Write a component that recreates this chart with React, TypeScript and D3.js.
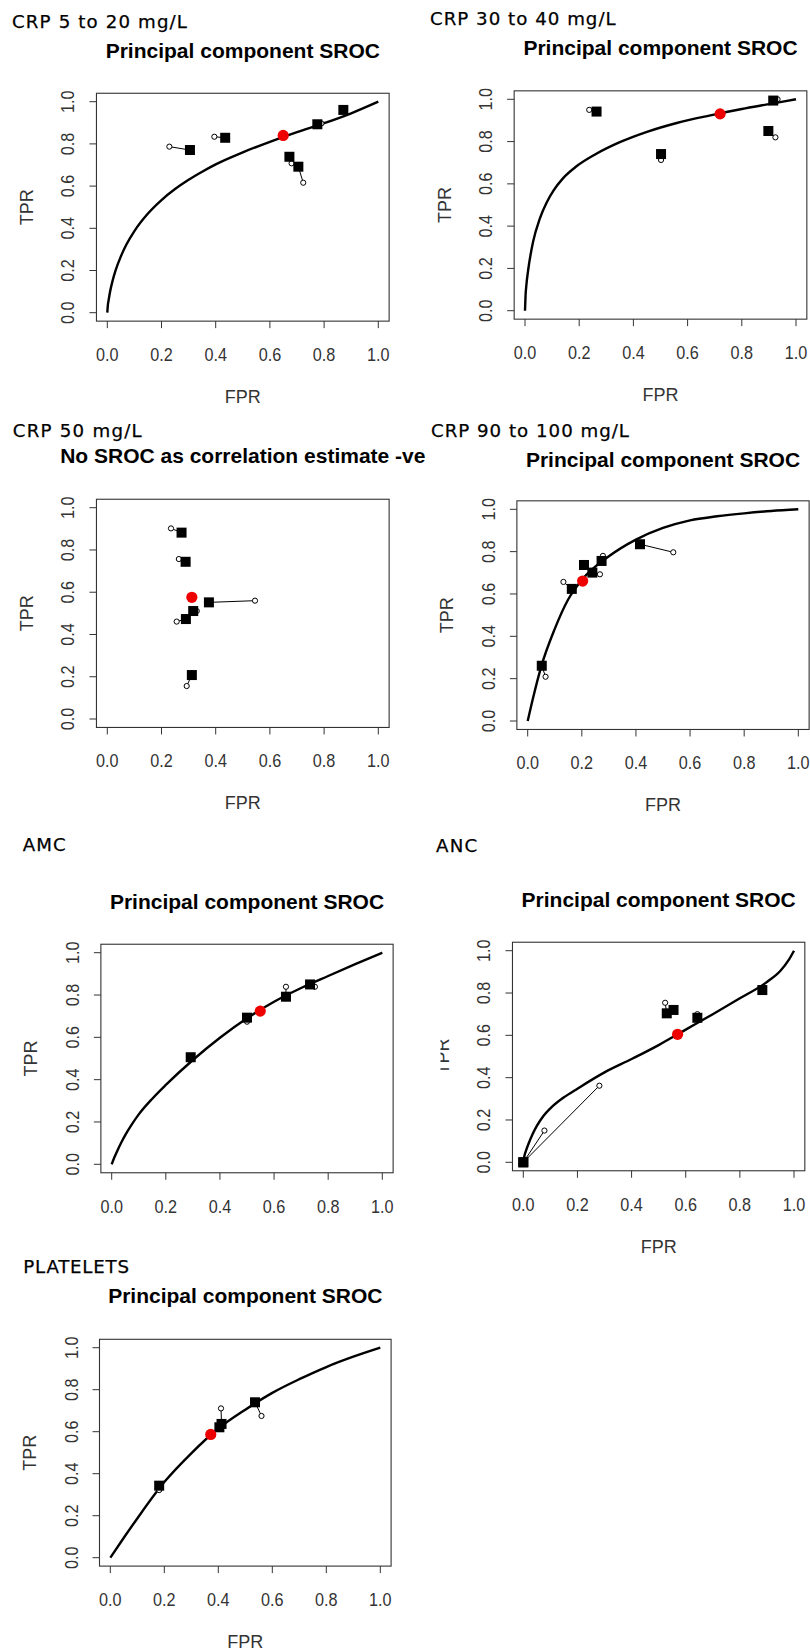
import React from 'react';
import * as d3 from 'd3';

// ---------- shared axis data ----------
const tickValues = [0, 0.2, 0.4, 0.6, 0.8, 1.0];
const tickLabels = ['0.0', '0.2', '0.4', '0.6', '0.8', '1.0'];
const xAxisTitle = 'FPR';
const yAxisTitle = 'TPR';
const sroctitle = 'Principal component SROC';

// ---------- panel 1: CRP 5 to 20 mg/L ----------
const p1Subtitle = 'CRP 5 to 20 mg/L';
const p1ObsFPR = [0.229, 0.395, 0.68, 0.723, 0.79, 0.877];
const p1ObsTPR = [0.787, 0.834, 0.708, 0.616, 0.897, 0.968];
const p1FitFPR = [0.305, 0.435, 0.672, 0.705, 0.775, 0.871];
const p1FitTPR = [0.771, 0.829, 0.739, 0.692, 0.893, 0.961];
const p1Summary = [0.649, 0.84];
const p1CurveFPR = [0, 0.002, 0.005, 0.01, 0.02, 0.03, 0.05, 0.07, 0.1, 0.15, 0.2, 0.25, 0.3, 0.35, 0.4, 0.5, 0.6, 0.7, 0.8, 0.9, 1.0];
const p1CurveTPR = [0, 0.035, 0.06, 0.098, 0.154, 0.198, 0.267, 0.322, 0.387, 0.47, 0.534, 0.586, 0.63, 0.668, 0.703, 0.76, 0.81, 0.856, 0.898, 0.945, 1.0];

// ---------- panel 2: CRP 30 to 40 mg/L ----------
const p2Subtitle = 'CRP 30 to 40 mg/L';
const p2ObsFPR = [0.237, 0.502, 0.924, 0.932];
const p2ObsTPR = [0.95, 0.713, 0.82, 1.0];
const p2FitFPR = [0.264, 0.502, 0.898, 0.916];
const p2FitTPR = [0.942, 0.741, 0.85, 0.994];
const p2Summary = [0.72, 0.931];
const p2CurveFPR = [0, 0.002, 0.005, 0.012, 0.03, 0.055, 0.08, 0.105, 0.14, 0.19, 0.26, 0.35, 0.45, 0.56, 0.68, 0.8, 0.9, 1.0];
const p2CurveTPR = [0, 0.07, 0.12, 0.195, 0.327, 0.437, 0.512, 0.568, 0.626, 0.683, 0.74, 0.797, 0.846, 0.888, 0.923, 0.954, 0.977, 1.0];

// ---------- panel 3: CRP 50 mg/L ----------
const p3Subtitle = 'CRP 50 mg/L';
const p3Title = 'No SROC as correlation estimate -ve';
const p3ObsFPR = [0.235, 0.264, 0.545, 0.33, 0.256, 0.293];
const p3ObsTPR = [0.902, 0.757, 0.56, 0.511, 0.461, 0.156];
const p3FitFPR = [0.274, 0.289, 0.375, 0.317, 0.29, 0.312];
const p3FitTPR = [0.882, 0.744, 0.552, 0.511, 0.473, 0.208];
const p3Summary = [0.312, 0.576];

// ---------- panel 4: CRP 90 to 100 mg/L ----------
const p4Subtitle = 'CRP 90 to 100 mg/L';
const p4ObsFPR = [0.066, 0.132, 0.21, 0.267, 0.278, 0.538];
const p4ObsTPR = [0.209, 0.657, 0.745, 0.693, 0.78, 0.797];
const p4FitFPR = [0.052, 0.163, 0.208, 0.239, 0.273, 0.415];
const p4FitTPR = [0.261, 0.624, 0.737, 0.701, 0.756, 0.835];
const p4Summary = [0.203, 0.661];
const p4CurveFPR = [0, 0.02, 0.05, 0.1, 0.15, 0.2, 0.3, 0.4, 0.5, 0.6, 0.7, 0.8, 0.9, 1.0];
const p4CurveTPR = [0, 0.11, 0.257, 0.435, 0.575, 0.666, 0.778, 0.857, 0.912, 0.948, 0.967, 0.981, 0.992, 1.0];

// ---------- panel 5: AMC ----------
const p5Subtitle = 'AMC';
const p5ObsFPR = [0.29, 0.5, 0.644, 0.751];
const p5ObsTPR = [0.5, 0.674, 0.839, 0.839];
const p5FitFPR = [0.292, 0.5, 0.644, 0.733];
const p5FitTPR = [0.506, 0.693, 0.792, 0.85];
const p5Summary = [0.549, 0.724];
const p5CurveFPR = [0, 0.01, 0.02, 0.035, 0.05, 0.075, 0.1, 0.15, 0.2, 0.3, 0.4, 0.5, 0.6, 0.7, 0.8, 0.9, 1.0];
const p5CurveTPR = [0, 0.033, 0.062, 0.102, 0.138, 0.19, 0.236, 0.31, 0.375, 0.493, 0.598, 0.69, 0.768, 0.833, 0.89, 0.946, 1.0];

// ---------- panel 6: ANC ----------
const p6Subtitle = 'ANC';
const p6ObsFPR = [0.078, 0.281, 0.524, 0.555, 0.643, 0.883];
const p6ObsTPR = [0.15, 0.362, 0.754, 0.725, 0.7, 0.814];
const p6FitFPR = [0, 0, 0.53, 0.555, 0.643, 0.883];
const p6FitTPR = [0, 0, 0.704, 0.72, 0.683, 0.814];
const p6Summary = [0.57, 0.605];
const p6CurveFPR = [0, 0.005, 0.01, 0.02, 0.035, 0.05, 0.075, 0.1, 0.15, 0.2, 0.3, 0.4, 0.5, 0.6, 0.7, 0.8, 0.9, 0.95, 0.98, 1.0];
const p6CurveTPR = [0, 0.035, 0.055, 0.09, 0.135, 0.172, 0.22, 0.255, 0.307, 0.348, 0.425, 0.488, 0.554, 0.627, 0.7, 0.775, 0.852, 0.905, 0.955, 1.0];

// ---------- panel 7: PLATELETS ----------
const p7Subtitle = 'PLATELETS';
const p7ObsFPR = [0.181, 0.41, 0.404, 0.56];
const p7ObsTPR = [0.322, 0.711, 0.63, 0.675];
const p7FitFPR = [0.181, 0.412, 0.404, 0.536];
const p7FitTPR = [0.343, 0.637, 0.621, 0.74];
const p7Summary = [0.372, 0.587];
const p7CurveFPR = [0, 0.05, 0.1, 0.2, 0.3, 0.4, 0.5, 0.6, 0.7, 0.8, 0.9, 1.0];
const p7CurveTPR = [0, 0.095, 0.187, 0.36, 0.497, 0.615, 0.705, 0.785, 0.85, 0.908, 0.957, 1.0];

// ---------- layout (pixel positions of value 0 and 1 on each axis) ----------
type Layout = {
  x0: number; x1: number; y0: number; y1: number;
  subX: number; subY: number; subLen: number; titleY: number;
  showX: boolean; cutTPR?: boolean;
};

const panels = [
  { sub: p1Subtitle, title: sroctitle, obsX: p1ObsFPR, obsY: p1ObsTPR, fitX: p1FitFPR, fitY: p1FitTPR, sum: p1Summary, cx: p1CurveFPR, cy: p1CurveTPR,
    lay: { x0: 107.3, x1: 378.3, y0: 312.7, y1: 101.7, subX: 12, subY: 28.3, subLen: 175, titleY: 58.3, showX: true } as Layout },
  { sub: p2Subtitle, title: sroctitle, obsX: p2ObsFPR, obsY: p2ObsTPR, fitX: p2FitFPR, fitY: p2FitTPR, sum: p2Summary, cx: p2CurveFPR, cy: p2CurveTPR,
    lay: { x0: 525, x1: 796, y0: 310.7, y1: 99.3, subX: 430, subY: 25, subLen: 185.7, titleY: 55, showX: true } as Layout },
  { sub: p3Subtitle, title: p3Title, obsX: p3ObsFPR, obsY: p3ObsTPR, fitX: p3FitFPR, fitY: p3FitTPR, sum: p3Summary, cx: null, cy: null,
    lay: { x0: 107.3, x1: 378.3, y0: 719, y1: 507.7, subX: 12.7, subY: 436.7, subLen: 129, titleY: 463.3, showX: true } as Layout },
  { sub: p4Subtitle, title: sroctitle, obsX: p4ObsFPR, obsY: p4ObsTPR, fitX: p4FitFPR, fitY: p4FitTPR, sum: p4Summary, cx: p4CurveFPR, cy: p4CurveTPR,
    lay: { x0: 527.7, x1: 798.3, y0: 721, y1: 509.3, subX: 431, subY: 436.7, subLen: 198, titleY: 466.7, showX: true } as Layout },
  { sub: p5Subtitle, title: sroctitle, obsX: p5ObsFPR, obsY: p5ObsTPR, fitX: p5FitFPR, fitY: p5FitTPR, sum: p5Summary, cx: p5CurveFPR, cy: p5CurveTPR,
    lay: { x0: 111.7, x1: 382.3, y0: 1164.3, y1: 952.7, subX: 22.7, subY: 850.7, subLen: 43, titleY: 909, showX: false } as Layout },
  { sub: p6Subtitle, title: sroctitle, obsX: p6ObsFPR, obsY: p6ObsTPR, fitX: p6FitFPR, fitY: p6FitTPR, sum: p6Summary, cx: p6CurveFPR, cy: p6CurveTPR,
    lay: { x0: 523.3, x1: 794, y0: 1162.3, y1: 950.7, subX: 436, subY: 852.3, subLen: 41.3, titleY: 906.7, showX: true, cutTPR: true } as Layout },
  { sub: p7Subtitle, title: sroctitle, obsX: p7ObsFPR, obsY: p7ObsTPR, fitX: p7FitFPR, fitY: p7FitTPR, sum: p7Summary, cx: p7CurveFPR, cy: p7CurveTPR,
    lay: { x0: 110.3, x1: 380.3, y0: 1557.7, y1: 1347.7, subX: 23.3, subY: 1273.3, subLen: 105.7, titleY: 1303.3, showX: true } as Layout },
];

const SANS = 'Liberation Sans, Arial, sans-serif';

function Panel({ p }: { p: any }) {
  const L: Layout = p.lay;
  const x = d3.scaleLinear().domain([0, 1]).range([L.x0, L.x1]);
  const y = d3.scaleLinear().domain([0, 1]).range([L.y0, L.y1]);
  const [bl, br] = [x(-0.04), x(1.04)];
  const [bt, bb] = [y(1.04), y(-0.04)];
  const cxm = (bl + br) / 2;
  const cym = (bt + bb) / 2;

  let curvePath: string | null = null;
  if (p.cx) {
    const pts: [number, number][] = p.cx.map((v: number, i: number) => [v, p.cy[i]]);
    curvePath = d3.line<[number, number]>()
      .x((d) => x(d[0]))
      .y((d) => y(d[1]))
      .curve(d3.curveMonotoneX)(pts);
  }

  const n = p.obsX.length;
  const idxs = d3.range(n);
  const sq = 10;

  return (
    <g>
      <text x={L.subX} y={L.subY} fontFamily="DejaVu Sans, sans-serif" fontSize={18.2} fill="#000"
        stroke="#000" strokeWidth={0.25} textLength={L.subLen} lengthAdjust="spacing">{p.sub}</text>
      <text x={cxm} y={L.titleY} fontFamily={SANS} fontWeight="bold" fontSize={21} fill="#000" textAnchor="middle">{p.title}</text>

      {/* box */}
      <rect x={bl} y={bt} width={br - bl} height={bb - bt} fill="none" stroke="#333" strokeWidth={1.1} />

      {/* x axis */}
      {tickValues.map((v, i) => (
        <g key={'xt' + i}>
          <line x1={x(v)} x2={x(v)} y1={bb} y2={bb + 7} stroke="#333" strokeWidth={1} />
          <text transform={`translate(${x(v)},${bb + 40}) scale(0.9,1)`} textAnchor="middle"
            fontFamily={SANS} fontSize={18} fill="#333">{tickLabels[i]}</text>
        </g>
      ))}
      {/* y axis */}
      {tickValues.map((v, i) => (
        <g key={'yt' + i}>
          <line x1={bl - 7} x2={bl} y1={y(v)} y2={y(v)} stroke="#333" strokeWidth={1} />
          <text transform={`translate(${bl - 22},${y(v)}) rotate(-90) scale(0.9,1)`} textAnchor="middle"
            fontFamily={SANS} fontSize={18} fill="#333">{tickLabels[i]}</text>
        </g>
      ))}

      {L.showX && (
        <text x={cxm} y={bb + 82} textAnchor="middle" fontFamily={SANS} fontSize={18} fill="#333">{xAxisTitle}</text>
      )}
      <text transform={`translate(${bl - 63.5},${cym}) rotate(-90)`} textAnchor="middle"
        fontFamily={SANS} fontSize={18} fill="#333">{yAxisTitle}</text>
      {L.cutTPR && (
        <rect x={bl - 90} y={cym - 40} width={bl - 72 - (bl - 90)} height={80} fill="#fff" />
      )}

      {/* SROC curve */}
      {curvePath && <path d={curvePath} fill="none" stroke="#000" strokeWidth={2.4} strokeLinejoin="round" />}

      {/* study links */}
      {idxs.map((i) => (
        <line key={'ln' + i} x1={x(p.obsX[i])} y1={y(p.obsY[i])} x2={x(p.fitX[i])} y2={y(p.fitY[i])}
          stroke="#000" strokeWidth={1} />
      ))}
      {/* observed points */}
      {idxs.map((i) => (
        <circle key={'ob' + i} cx={x(p.obsX[i])} cy={y(p.obsY[i])} r={2.6} fill="#fff" stroke="#000" strokeWidth={1} />
      ))}
      {/* fitted points */}
      {idxs.map((i) => (
        <rect key={'ft' + i} x={x(p.fitX[i]) - sq / 2} y={y(p.fitY[i]) - sq / 2} width={sq} height={sq} fill="#000" />
      ))}
      {/* summary point */}
      <circle cx={x(p.sum[0])} cy={y(p.sum[1])} r={5.6} fill="#ee0000" />
    </g>
  );
}

export default function App() {
  return (
    <svg width={810} height={1652} viewBox="0 0 810 1652"
      style={{ position: 'absolute', left: 0, top: 0, background: '#fff' }}>
      <rect x={0} y={0} width={810} height={1652} fill="#fff" />
      {panels.map((p, i) => <Panel key={i} p={p} />)}
    </svg>
  );
}
